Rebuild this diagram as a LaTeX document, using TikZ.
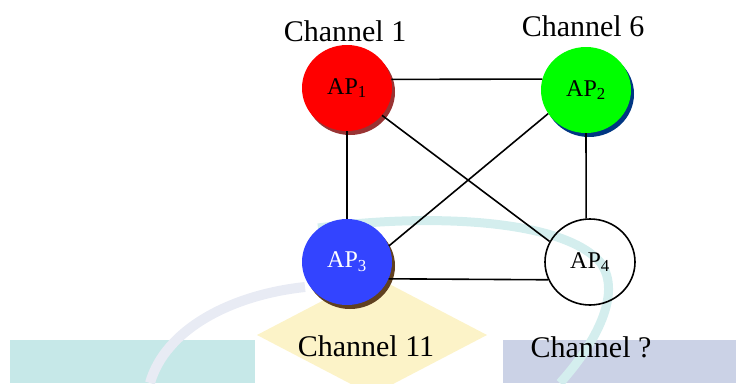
\documentclass[tikz,border=0pt]{standalone}
\usepackage{fontspec}
\setmainfont{Liberation Serif}
\usetikzlibrary{shapes.geometric,shadows}

\definecolor{apred}{HTML}{FF0000}
\definecolor{apgreen}{HTML}{00FF00}
\definecolor{apblue}{HTML}{3344FF}
\definecolor{wmcyan}{HTML}{C6E8E8}
\definecolor{wmyellow}{HTML}{FCF3C8}
\definecolor{wmlav}{HTML}{CBD2E6}

\begin{document}
\begin{tikzpicture}[x=1pt,y=-1pt,
    ap/.style={ellipse,minimum width=90pt,minimum height=86pt,inner sep=0,font=\apfontsize},
    apshadow/.style={drop shadow={shadow xshift=3pt,shadow yshift=-4pt,opacity=1,fill=#1}},
    chan/.style={font=\chanfontsize,inner sep=0},
    link/.style={line width=1.6pt}]
    \providecommand{\chanfontsize}{\fontsize{30pt}{34pt}\selectfont}
    \providecommand{\apfontsize}{\fontsize{24pt}{28pt}\selectfont}
    \useasboundingbox (0,0) rectangle (736,383);
    % faint logo in the back
    \fill[wmcyan] (10,340) rectangle (255,383);
    \fill[wmlav] (503,340) rectangle (736,383);
    \fill[wmyellow] (257,335) -- (372,275) -- (487,335) -- (372,395) -- cycle;
    \draw[wmlav!45,line width=10pt] (150,383) .. controls (165,330) and (230,295) .. (305,287);
    \draw[wmcyan!75,line width=9pt] (318,228) .. controls (420,214) and (560,217) .. (600,262)
        .. controls (625,295) and (590,350) .. (560,383);
    % access points
    \node[ap,fill=apred,apshadow={black!50!red!80}] (AP1) at (347,88) {AP\textsubscript{1}};
    \node[ap,fill=apgreen,apshadow={black!40!teal!70!blue}] (AP2) at (586,90) {AP\textsubscript{2}};
    \node[ap,fill=apblue,text=white,apshadow={black!50!brown}] (AP3) at (347,262) {AP\textsubscript{3}};
    \node[ap,draw,line width=1.6pt] (AP4) at (590,262) {AP\textsubscript{4}};
    % channel labels
    \node[chan] (ch1) at (345,31) {Channel 1};
    \node[chan] (ch6) at (583,26) {Channel 6};
    \node[chan] (ch11) at (366,346) {Channel 11};
    \node[chan] (chq) at (591,347) {Channel ?};
    % links
    \draw[link] (AP1.11) -- (AP2.166);
    \draw[link] (AP3.-22) -- (AP4.203);
    \draw[link] (AP1.south) -- (AP3.north);
    \draw[link] (AP2.south) -- (AP4.95);
    \draw[link] (AP1.-38) -- (AP4.153);
    \draw[link] (AP2.212) -- (AP3.21);
\end{tikzpicture}
\end{document}
